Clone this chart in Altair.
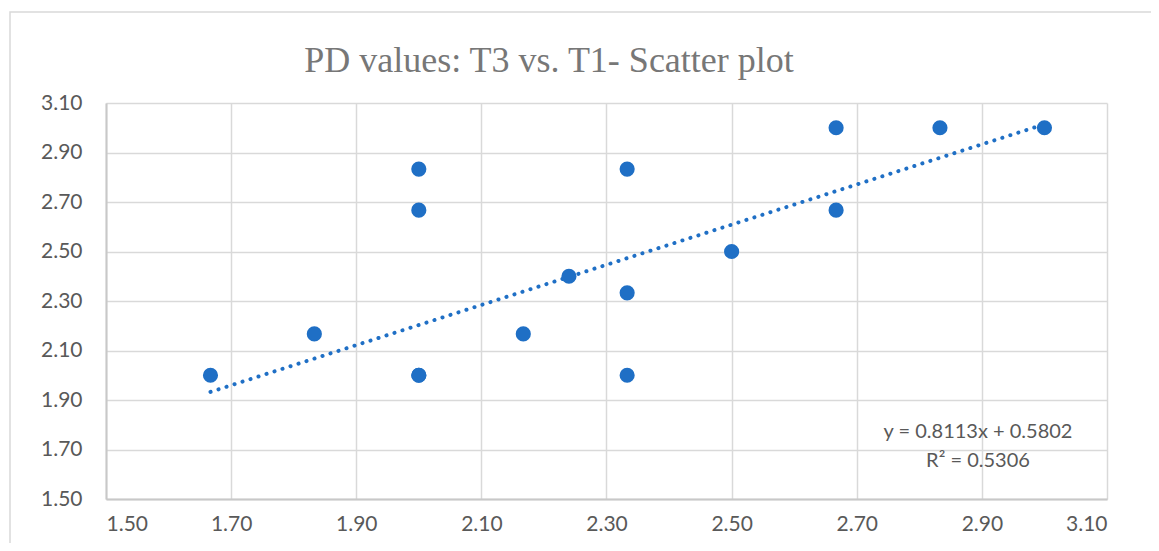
import altair as alt
import pandas as pd

# Data
t1_values = [1.667, 1.833, 2.000, 2.000, 2.000, 2.000, 2.167, 2.240, 2.333, 2.333, 2.333, 2.500, 2.667, 2.667, 2.833, 3.000]
t3_values = [2.000, 2.167, 2.000, 2.000, 2.667, 2.833, 2.167, 2.400, 2.833, 2.333, 2.000, 2.500, 3.000, 2.667, 3.000, 3.000]
slope = 0.8113
intercept = 0.5802
r_squared = 0.5306
tick_values = [1.50, 1.70, 1.90, 2.10, 2.30, 2.50, 2.70, 2.90, 3.10]
equation_lines = [f"y = {slope}x + {intercept}", f"R² = {r_squared}"]
title_text = "PD values: T3 vs. T1- Scatter plot"

BLUE = "#1f6fc5"
GRID = "#d9d9d9"
TEXT = "#595959"
FONT = "Lato"

points = pd.DataFrame({"T1": t1_values, "T3": t3_values})
x_min, x_max = min(t1_values), max(t1_values)
trend = pd.DataFrame({"T1": [x_min, x_max],
                      "T3": [slope * x_min + intercept, slope * x_max + intercept]})

xscale = alt.Scale(domain=[1.5, 3.1], nice=False, zero=False)
yscale = alt.Scale(domain=[1.5, 3.1], nice=False, zero=False)

xaxis = alt.Axis(values=tick_values, format=".2f", title=None, grid=True,
                 gridColor=GRID, gridWidth=1.5, domainColor="#c8c8c8", domainWidth=2,
                 ticks=False, labelFont=FONT, labelFontSize=21, labelColor=TEXT,
                 labelPadding=14)
yaxis = alt.Axis(values=tick_values, format=".2f", title=None, grid=True,
                 gridColor=GRID, gridWidth=1.5, domainColor="#c8c8c8", domainWidth=2,
                 ticks=False, labelFont=FONT, labelFontSize=21, labelColor=TEXT,
                 labelPadding=24)

X = alt.X("T1:Q", scale=xscale, axis=xaxis)
Y = alt.Y("T3:Q", scale=yscale, axis=yaxis)

frame = alt.Chart(pd.DataFrame({"a": [0]})).mark_rect(
    fill=None, stroke=GRID, strokeWidth=1.5
).encode(x=alt.value(-96), y=alt.value(-91), x2=alt.value(1200), y2=alt.value(600))

title = alt.Chart(pd.DataFrame({"t": [title_text]})).mark_text(
    font="Liberation Serif", fontSize=36, color="#777777", align="center",
    baseline="alphabetic"
).encode(x=alt.value(443), y=alt.value(-31), text="t:N")

scatter = alt.Chart(points).mark_circle(size=230, color=BLUE, opacity=1).encode(x=X, y=Y)

trendline = alt.Chart(trend).mark_line(
    color=BLUE, strokeWidth=4, strokeDash=[0.1, 8.3], strokeCap="round"
).encode(x=X, y=Y)

eq1 = alt.Chart(pd.DataFrame({"line": [equation_lines[0]]})).mark_text(
    font=FONT, fontSize=20, color=TEXT, align="center", baseline="middle"
).encode(x=alt.value(872), y=alt.value(329), text="line:N")

eq2 = alt.Chart(pd.DataFrame({"line": [equation_lines[1]]})).mark_text(
    font=FONT, fontSize=20, color=TEXT, align="center", baseline="middle"
).encode(x=alt.value(872), y=alt.value(358), text="line:N")

chart = alt.layer(frame, title, trendline, scatter, eq1, eq2).properties(
    width=1001,
    height=396,
    autosize=alt.AutoSizeParams(type="none"),
    padding={"left": 98, "top": 95, "right": 44, "bottom": 44},
).configure_view(stroke=None)

chart.save("out.html", embed_options={"renderer": "svg", "actions": False})
